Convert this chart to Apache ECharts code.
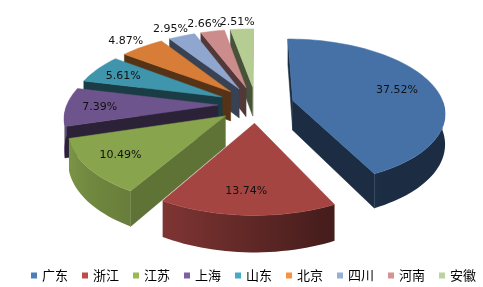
<!DOCTYPE html>
<html><head><meta charset="utf-8">
<script src="https://cdn.jsdelivr.net/npm/echarts@6/dist/echarts.min.js"></script>
<style>html,body{margin:0;padding:0;background:#fff}#c{width:483px;height:287px}</style>
</head><body><div id="c"></div>
<script>
const categories = ['广东','浙江','江苏','上海','山东','北京','四川','河南','安徽'];
const values = [37.52, 13.74, 10.49, 7.39, 5.61, 4.87, 2.95, 2.66, 2.51];
const labelTexts = ['37.52%','13.74%','10.49%','7.39%','5.61%','4.87%','2.95%','2.66%','2.51%'];
const topColors = ['#4571A7','#A54542','#88A44D','#6E548C','#3E95AC','#D77D37','#8FA6CE','#CC8C8B','#B5CC92'];
const legendColors = ['#4A7EBB','#BE4B48','#98B954','#7D60A0','#46AAC5','#F69240','#95B0D8','#D69391','#BBD39C'];

// geometry of the 3D pie
const CX = 256, CY = 104.5, R = 151, SQ = 0.476, PA = 0.151, H = 30, EXPLODE = 38;
const total = values.reduce((a, b) => a + b, 0);
const starts = [], ends = [];
{ let c = 0; values.forEach(v => { starts.push(c / total * 360); c += v; ends.push(c / total * 360); }); }
const rad = d => d * Math.PI / 180;

function proj(X, Yd, z) {
  const s = 1 / (1 + PA * Yd / R);
  return [CX + X * s, CY - SQ * Yd * s + z * s];
}
function shade(hex, f) {
  const n = parseInt(hex.slice(1), 16);
  const r = Math.round(((n >> 16) & 255) * f), g = Math.round(((n >> 8) & 255) * f), b = Math.round((n & 255) * f);
  return 'rgb(' + r + ',' + g + ',' + b + ')';
}
const outerShadeStops = [[0,0.40],[150,0.40],[160,0.44],[205,0.74],[215,0.78],[250,0.9],[360,0.9]];
function outerShade(t) {
  for (let k = 1; k < outerShadeStops.length; k++) {
    const [t1, f1] = outerShadeStops[k], [t0, f0] = outerShadeStops[k - 1];
    if (t <= t1) return f0 + (f1 - f0) * (t - t0) / (t1 - t0);
  }
  return 0.9;
}
function radialShade(normal) {
  const n = ((normal % 360) + 360) % 360;
  return (n >= 90 && n <= 140) ? 0.7 : 0.4;
}
function area(pts) {
  let s = 0;
  for (let k = 0; k < pts.length; k++) {
    const a = pts[k], b = pts[(k + 1) % pts.length];
    s += a[0] * b[1] - b[0] * a[1];
  }
  return s;
}

function buildSlice(i) {
  const a0 = starts[i], a1 = ends[i], m = (a0 + a1) / 2;
  const ox = EXPLODE * Math.sin(rad(m)), oy = EXPLODE * Math.cos(rad(m));
  const P = (t, r, z) => proj(ox + r * Math.sin(rad(t)), oy + r * Math.cos(rad(t)), z);
  const col = topColors[i];
  const children = [];
  const apexT = P(0, 0, 0), apexB = P(0, 0, H);
  const f0 = [apexT, P(a0, R, 0), P(a0, R, H), apexB];
  const f1 = [apexT, apexB, P(a1, R, H), P(a1, R, 0)];
  if (area(f0) < 0) children.push({ type: 'polygon', shape: { points: f0 }, style: { fill: shade(col, radialShade(a0 - 90)), stroke: shade(col, radialShade(a0 - 90)), lineWidth: 0.5 } });
  if (area(f1) < 0) children.push({ type: 'polygon', shape: { points: f1 }, style: { fill: shade(col, radialShade(a1 + 90)), stroke: shade(col, radialShade(a1 + 90)), lineWidth: 0.5 } });
  const lo = Math.max(a0, 90), hi = Math.min(a1, 270);
  if (hi > lo) {
    const n = Math.max(2, Math.ceil((hi - lo) / 2));
    const topPts = [], botPts = [], stops = [];
    for (let k = 0; k <= n; k++) {
      const t = lo + (hi - lo) * k / n;
      topPts.push(P(t, R, 0));
      botPts.push(P(t, R, H));
    }
    const xs = topPts.map(p => p[0]);
    const minX = Math.min(...xs), maxX = Math.max(...xs);
    for (let k = 0; k <= n; k++) {
      const t = lo + (hi - lo) * k / n;
      stops.push({ offset: (xs[k] - minX) / Math.max(1e-6, maxX - minX), color: shade(col, outerShade(t)) });
    }
    stops.sort((a, b) => a.offset - b.offset);
    const fill = { type: 'linear', x: minX, y: 0, x2: maxX, y2: 0, global: true, colorStops: stops };
    children.push({ type: 'polygon', shape: { points: topPts.concat(botPts.reverse()) }, style: { fill: fill } });
  }
  const n2 = Math.max(2, Math.ceil((a1 - a0) / 2));
  const topFace = [apexT];
  for (let k = 0; k <= n2; k++) topFace.push(P(a0 + (a1 - a0) * k / n2, R, 0));
  children.push({ type: 'polygon', shape: { points: topFace }, style: { fill: col, stroke: col, lineWidth: 0.5 } });
  const share = values[i] / total;
  const lr = share < 0.06 ? 1.17 * R : 0.76 * R;
  const lp = P(m, lr, 0);
  children.push({ type: 'text', x: lp[0] - 3, y: lp[1] + 1, z2: 100, style: { text: labelTexts[i], font: '11px "DejaVu Sans"', fill: '#111', align: 'center', verticalAlign: 'middle' } });
  return { type: 'group', children: children };
}

const depth = values.map((v, i) => -Math.cos(rad((starts[i] + ends[i]) / 2)));
const order = depth.map((d, i) => i).sort((a, b) => depth[a] - depth[b]);
const zOf = {}; order.forEach((idx, r) => { zOf[idx] = 2 + r; });

const series = categories.map((name, i) => ({
  type: 'custom',
  name: name,
  coordinateSystem: 'none',
  z: zOf[i],
  silent: true,
  animation: false,
  itemStyle: { color: legendColors[i] },
  data: [values[i]],
  renderItem: function () { return buildSlice(i); }
}));

const chart = echarts.init(document.getElementById('c'), null, { renderer: 'canvas' });
chart.setOption({
  backgroundColor: '#fff',
  animation: false,
  legend: {
    data: categories.map((c, i) => ({ name: c, itemStyle: { color: legendColors[i] } })),
    left: 31, top: 269, width: 452, padding: 0,
    icon: 'rect', itemWidth: 6, itemHeight: 6, itemGap: 14,
    selectedMode: false,
    textStyle: { fontSize: 13, color: '#000', fontFamily: '"Noto Sans CJK SC"' }
  },
  series: series
});
</script>
</body></html>
